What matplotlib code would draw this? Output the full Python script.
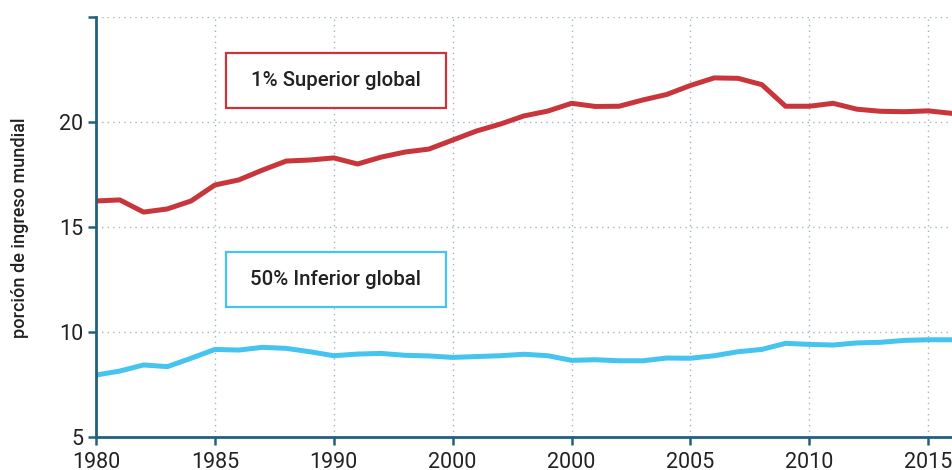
import matplotlib
matplotlib.use("Agg")
import matplotlib.pyplot as plt
from matplotlib.patches import Rectangle

years = list(range(1980, 2017))
top1 = [16.24, 16.29, 15.71, 15.86, 16.24, 17.0, 17.24, 17.71, 18.14, 18.19,
        18.29, 18.0, 18.33, 18.57, 18.71, 19.14, 19.57, 19.9, 20.29, 20.52,
        20.89, 20.74, 20.75, 21.05, 21.31, 21.74, 22.1, 22.08, 21.78, 20.75,
        20.75, 20.89, 20.61, 20.51, 20.49, 20.53, 20.41]
bottom50 = [7.95, 8.14, 8.43, 8.35, 8.75, 9.17, 9.14, 9.27, 9.22, 9.06,
            8.87, 8.95, 8.98, 8.89, 8.86, 8.79, 8.83, 8.87, 8.94, 8.87,
            8.65, 8.68, 8.63, 8.63, 8.76, 8.75, 8.87, 9.06, 9.17, 9.46,
            9.41, 9.38, 9.48, 9.51, 9.60, 9.63, 9.63]

xtick_pos = [1980, 1985, 1990, 1995, 2000, 2005, 2010, 2015]
xtick_labels = ["1980", "1985", "1990", "2000", "2000", "2005", "2010", "2015"]
ytick_pos = [5, 10, 15, 20, 25]
ytick_labels = ["5", "10", "15", "20", ""]

label_top = "1% Superior global"
label_bottom = "50% Inferior global"
ylabel = "porción de ingreso mundial"

RED = "#c8363b"
BLUE = "#45c4f0"
AXC = "#22607e"
TXT = "#222222"
GRID = "#9fb7c5"

plt.rcParams['font.family'] = ['Roboto', 'DejaVu Sans']

fig = plt.figure(figsize=(9.52, 4.70), dpi=100)
ax = fig.add_axes([96/952, 1 - 437/470, 1 - 96/952, (437 - 17)/470])

ax.plot(years, top1, color=RED, lw=3.6, solid_joinstyle='round', zorder=3)
ax.plot(years, bottom50, color=BLUE, lw=3.6, solid_joinstyle='round', zorder=3)

ax.set_xlim(1980, 2016)
ax.set_ylim(5, 25)
ax.set_xticks(xtick_pos)
ax.set_xticklabels(xtick_labels)
ax.set_yticks(ytick_pos)
ax.set_yticklabels(ytick_labels)

ax.grid(True, linestyle=(0, (1, 3)), color=GRID, lw=1.0, zorder=0)
for s in ['top', 'right']:
    ax.spines[s].set_visible(False)
for s in ['left', 'bottom']:
    ax.spines[s].set_color(AXC)
    ax.spines[s].set_linewidth(2.0)
    ax.spines[s].set_zorder(4)
ax.tick_params(axis='both', colors=AXC, length=6, width=1.8, labelcolor=TXT,
               labelsize=15.5, pad=3)
ax.tick_params(axis='x', pad=5)

# annotation boxes
for (x0, x1, y0, y1, txt, c) in [
        (1985.46, 1994.71, 20.67, 23.29, label_top, RED),
        (1985.46, 1994.71, 11.19, 13.81, label_bottom, BLUE)]:
    ax.add_patch(Rectangle((x0, y0), x1 - x0, y1 - y0, fill=True,
                           facecolor='white', edgecolor=c, lw=1.6, zorder=5))
    ax.text((x0 + x1) / 2, (y0 + y1) / 2, txt, ha='center', va='center',
            fontsize=14.7, fontweight='medium', color=TXT, zorder=6)

fig.text(20/952, 1 - 228/470, ylabel, rotation=90, ha='center', va='center',
         fontsize=13, fontweight='medium', color=TXT)

fig.savefig("out.png", dpi=100)
